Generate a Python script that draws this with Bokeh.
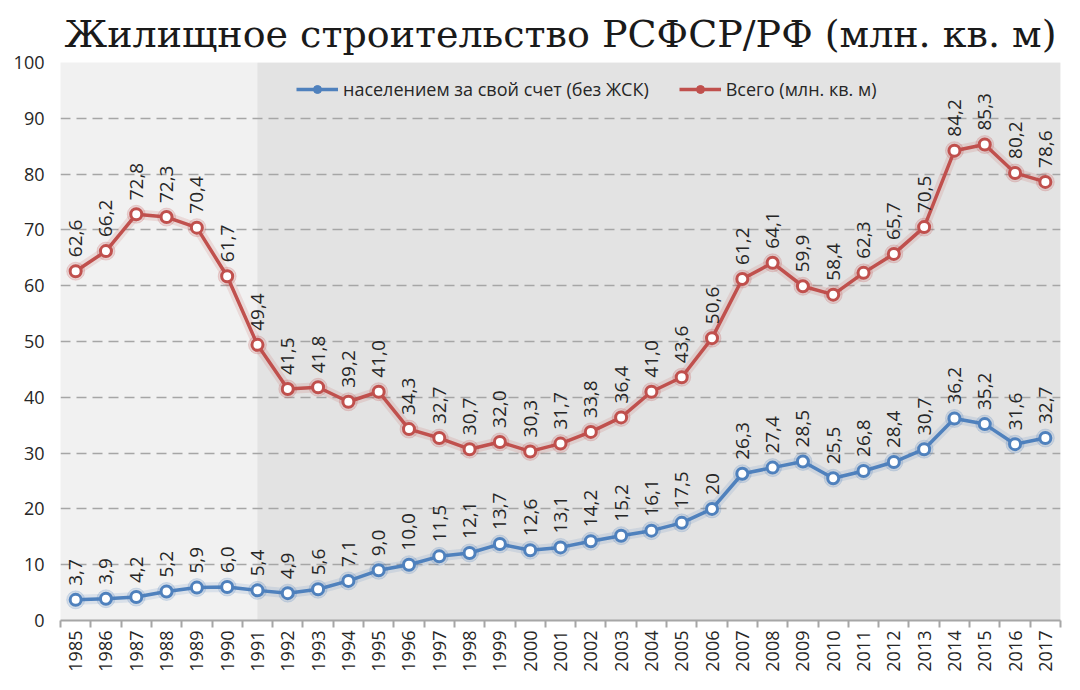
import numpy as np
from bokeh.plotting import figure
from bokeh.models import Range1d, BoxAnnotation, FixedTicker, Legend, LegendItem
from bokeh.core.properties import value
from bokeh.embed import file_html
from bokeh.resources import INLINE

years = list(range(1985, 2018))
total = [62.6, 66.2, 72.8, 72.3, 70.4, 61.7, 49.4, 41.5, 41.8, 39.2, 41.0, 34.3, 32.7,
         30.7, 32.0, 30.3, 31.7, 33.8, 36.4, 41.0, 43.6, 50.6, 61.2, 64.1, 59.9, 58.4,
         62.3, 65.7, 70.5, 84.2, 85.3, 80.2, 78.6]
own = [3.7, 3.9, 4.2, 5.2, 5.9, 6.0, 5.4, 4.9, 5.6, 7.1, 9.0, 10.0, 11.5, 12.1, 13.7,
       12.6, 13.1, 14.2, 15.2, 16.1, 17.5, 20, 26.3, 27.4, 28.5, 25.5, 26.8, 28.4, 30.7,
       36.2, 35.2, 31.6, 32.7]
y_ticks = list(range(0, 101, 10))
shade_start = 1991
title = "Жилищное строительство РСФСР/РФ (млн. кв. м)"
names = ["населением за свой счет (без ЖСК)", "Всего (млн. кв. м)"]


def fmt(v):
    # Excel shows 20 without decimals
    return f"{v:.1f}".replace(".", ",") if isinstance(v, float) else str(v)


FONT = "Open Sans"

p = figure(width=1064, height=674, output_backend="svg", toolbar_location=None,
           x_range=Range1d(years[0] - 0.5, years[-1] + 0.5), y_range=Range1d(0, 100),
           min_border_left=60, min_border_right=4, min_border_bottom=50, min_border_top=62)
p.background_fill_color = "#f1f1f1"
p.border_fill_color = "white"
p.outline_line_color = None

p.add_layout(BoxAnnotation(left=shade_start, fill_color="#e3e3e3", fill_alpha=1,
                           line_color=None, level="image"))

p.title.text = title
p.title.text_font = "DejaVu Serif"
p.title.text_font_size = "38px"
p.title.text_font_style = "normal"
p.title.text_color = "#1a1a1a"
p.title.align = "center"
p.title.standoff = 14

p.xgrid.visible = False
p.ygrid.grid_line_color = "#a6a6a6"
p.ygrid.grid_line_dash = "10 6"
p.ygrid.grid_line_width = 1.5

p.yaxis.ticker = y_ticks
p.yaxis.axis_line_color = None
p.yaxis.major_tick_line_color = None
p.yaxis.minor_tick_line_color = None
p.yaxis.major_label_text_font = FONT
p.yaxis.major_label_text_font_size = "18px"
p.yaxis.major_label_text_color = "#262626"
p.yaxis.major_label_standoff = 10

p.xaxis.ticker = FixedTicker(ticks=years, minor_ticks=[y - 0.5 for y in years] + [years[-1] + 0.5])
p.xaxis.axis_line_color = "#a6a6a6"
p.xaxis.axis_line_width = 2
p.xaxis.major_tick_line_color = None
p.xaxis.major_tick_out = 7
p.xaxis.minor_tick_line_color = "#a6a6a6"
p.xaxis.minor_tick_line_width = 2
p.xaxis.minor_tick_out = 7
p.xaxis.minor_tick_in = 0
p.xaxis.major_label_orientation = np.pi / 2
p.xaxis.major_label_text_font = FONT
p.xaxis.major_label_text_font_size = "18px"
p.xaxis.major_label_text_color = "#262626"
p.xaxis.major_label_standoff = 3

items = []
for vals, color, name in [(own, "#4f81bd", names[0]), (total, "#c0504d", names[1])]:
    p.line(years, vals, line_width=10, color=color, alpha=0.15)
    ln = p.line(years, vals, line_width=3.5, color=color)
    p.scatter(years, vals, size=18, color=color, alpha=0.18)
    # solid dot hidden under the white marker, used for the legend glyph
    dot = p.scatter(years, vals, size=9, color=color)
    p.scatter(years, vals, size=11, fill_color="white", line_color=color, line_width=3)
    p.text(years, vals, text=[fmt(v) for v in vals], angle=np.pi / 2,
           text_align="left", text_baseline="middle", y_offset=-14,
           text_font=value(FONT), text_font_size="19px", text_color="#262626")
    items.append(LegendItem(label=name, renderers=[ln, dot]))

legend = Legend(items=items, orientation="horizontal", location=(236, 519),
                label_text_font=FONT, label_text_font_size="18px", label_text_color="#262626",
                glyph_width=42, spacing=30, background_fill_alpha=0, border_line_color=None)
p.add_layout(legend)

open("out.html", "w").write(file_html(p, INLINE))
